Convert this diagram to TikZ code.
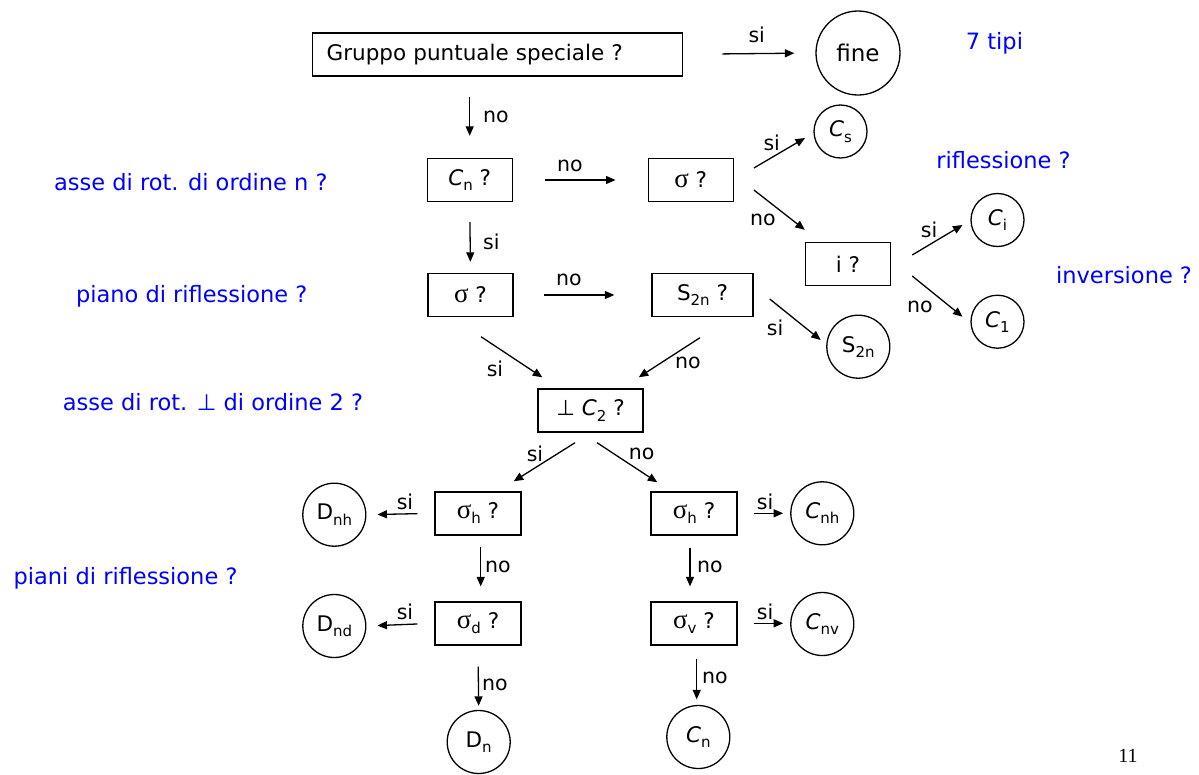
\documentclass[tikz,border=0pt]{standalone}
\usepackage{fontspec}
\setmainfont{DejaVu Sans}
\newfontfamily\seriff{Liberation Serif}
\usetikzlibrary{arrows.meta,calc}
\newcommand\sbx[1]{\raisebox{-0.45ex}{\fontsize{15}{15}\selectfont #1}}
\newcommand\sgm{{\seriff\fontsize{27}{27}\selectfont σ}}
\newcommand\Ci{{\itshape C}}
\begin{document}
\begin{tikzpicture}[x=1pt,y=-1pt,
  every node/.style={inner sep=0pt, font=\fontsize{21.5}{21.5}\selectfont},
  qbox/.style={draw, line width=1.4pt, minimum height=43pt, minimum width=85pt},
  res/.style={draw, circle, line width=1.3pt, minimum size=63pt},
  ressm/.style={res, minimum size=53pt},
  arr/.style={-{Triangle[length=9.5pt,width=8pt]}, line width=1.3pt},
  lab/.style={font=\fontsize{20.5}{20.5}\selectfont},
  note/.style={text=blue, font=\fontsize{22.5}{22.5}\selectfont}]
\useasboundingbox (0,0) rectangle (1199,774);

% question boxes
\node[qbox, minimum width=370pt, text width=342pt, align=left, inner xsep=14pt] (top) at (497.7,54.3) {Gruppo puntuale speciale ?};
\node[qbox] (Cnq) at (469.7,180) {\Ci\sbx{n} ?};
\node[qbox] (sig1) at (690.7,180) {\sgm{} ?};
\node[qbox] (iq) at (848,264) {i ?};
\node[qbox] (sig2) at (470.5,295) {\sgm{} ?};
\node[qbox, minimum width=101pt] (S2q) at (702.5,295) {S\sbx{2n} ?};
\node[qbox, minimum width=105pt] (perp) at (590.5,410.5) {⊥ \Ci\sbx{2} ?};
\node[qbox, minimum width=86pt] (sh1) at (478,513.3) {\sgm\sbx{h} ?};
\node[qbox, minimum width=86pt] (sd) at (478,623.3) {\sgm\sbx{d} ?};
\node[qbox, minimum width=86pt] (sh2) at (694,513.3) {\sgm\sbx{h} ?};
\node[qbox, minimum width=86pt] (sv) at (694,623.3) {\sgm\sbx{v} ?};

% results
\node[res, minimum size=84pt, font=\fontsize{23}{23}\selectfont] (fine) at (858,53) {fine};
\node[ressm] (Cs) at (840.5,131.5) {\Ci\sbx{s}};
\node[ressm] (Cii) at (997.5,220) {\Ci\sbx{i}};
\node[ressm] (C1) at (997.5,321.7) {\Ci\sbx{1}};
\node[res] (S2c) at (858.3,346.7) {S\sbx{2n}};
\node[res] (Dnh) at (334.3,514.7) {D\sbx{nh}};
\node[res] (Dnd) at (334.3,626) {D\sbx{nd}};
\node[res] (Dn) at (478.7,742) {D\sbx{n}};
\node[res] (Cnh) at (822.3,513.3) {\Ci\sbx{nh}};
\node[res] (Cnv) at (822.3,624) {\Ci\sbx{nv}};
\node[res] (Cn2) at (698.3,737) {\Ci\sbx{n}};

% blue notes
\node[note] (t7) at (994.5,43) {7 tipi};
\node[note] (n1) at (190.8,181.7) {asse di rot. di ordine n ?};
\node[note] (n2) at (1003.5,160) {riflessione ?};
\node[note] (n3) at (1124,275) {inversione ?};
\node[note] (n4) at (191.7,296.7) {piano di riflessione ?};
\node[note] (n5) at (213,401.7) {asse di rot. ⊥ di ordine 2 ?};
\node[note] (n6) at (125.5,578) {piani di riflessione ?};
\node[font=\seriff\fontsize{20}{20}\selectfont] (pg) at (1128,756) {11};

% connectors
\draw[arr, shorten <=39pt, shorten >=21pt] (top.east) -- (fine.west);
\draw[arr, shorten <=20pt, shorten >=22pt] (top.south -| Cnq.north) -- (Cnq.north);
\draw[arr, shorten <=32pt, shorten >=32pt] (Cnq.east) -- (sig1.west);
\draw[arr] ([shift={(20,-12)}]sig1.east) -- ([shift={(-35.5,6.5)}]Cs.center);
\draw[arr] ([shift={(20,10)}]sig1.east) -- ([shift={(0,-12)}]iq.north west);
\draw[arr] ([shift={(21,-9)}]iq.east) -- ([shift={(-35,5)}]Cii.center);
\draw[arr] ([shift={(21,12)}]iq.east) -- ([shift={(-35,-5)}]C1.center);
\draw[arr, shorten <=20pt, shorten >=11pt] (Cnq.south) -- (sig2.north);
\draw[arr, shorten <=30pt, shorten >=37pt] (sig2.east) -- (S2q.west);
\draw[arr] ([shift={(16,4)}]S2q.east) -- ([shift={(-37.6,-6.7)}]S2c.center);
\draw[arr] ([shift={(10.5,19.5)}]sig2.south) -- ([shift={(5,-11)}]perp.north west);
\draw[arr] ([shift={(-2.5,20.5)}]S2q.south) -- ([shift={(-5,-11)}]perp.north east);
\draw[arr] ([shift={(-15.5,10)}]perp.south) -- ([shift={(-8,-9.8)}]sh1.north east);
\draw[arr] ([shift={(6.5,10)}]perp.south) -- ([shift={(7,-8.8)}]sh2.north west);
\draw[arr, shorten <=17pt, shorten >=11pt] (sh1.west) -- (Dnh.east);
\draw[arr, shorten <=11.7pt, shorten >=14.7pt] ([xshift=2.7pt]sh1.south) -- ([xshift=2.7pt]sd.north);
\draw[arr, shorten <=17pt, shorten >=11pt] (sd.west) -- (Dnd.west -| Dnd.east);
\draw[arr, shorten <=21pt, shorten >=4pt] (sd.south) -- (Dn.north);
\draw[arr, shorten <=16pt, shorten >=7pt] (sh2.east) -- (Cnh.west);
\draw[arr, shorten <=12pt, shorten >=14.7pt] ([xshift=-4pt]sh2.south) -- ([xshift=-4pt]sv.north);
\draw[arr, shorten <=16pt, shorten >=7pt] (sv.east) -- (sv.east -| Cnv.west);
\draw[arr, shorten <=13pt, shorten >=5.5pt] ([xshift=2.7pt]sv.south) -- ([xshift=-1.6pt]Cn2.north);

% connector labels
\node[lab] (l1) at (756.7,35) {si};
\node[lab, anchor=west] (l2) at (483,117) {no};
\node[lab] (l3) at (570,166) {no};
\node[lab] (l4) at (771.7,143) {si};
\node[lab] (l5) at (763,220) {no};
\node[lab] (l6) at (929,230) {si};
\node[lab] (l7) at (920,306.7) {no};
\node[lab, anchor=west] (l8) at (483,241.7) {si};
\node[lab] (l9) at (569,280) {no};
\node[lab] (l10) at (775,328) {si};
\node[lab] (l11) at (495,369) {si};
\node[lab] (l12) at (688,363) {no};
\node[lab] (l13) at (535,454) {si};
\node[lab] (l14) at (641.7,454) {no};
\node[lab] (l15) at (405,502) {si};
\node[lab, anchor=west] (l16) at (485,567) {no};
\node[lab] (l17) at (405,612) {si};
\node[lab, anchor=west] (l18) at (482,685) {no};
\node[lab] (l19) at (765,502) {si};
\node[lab, anchor=west] (l20) at (697,567) {no};
\node[lab] (l21) at (765,612) {si};
\node[lab, anchor=west] (l22) at (702,678) {no};
\end{tikzpicture}
\end{document}
